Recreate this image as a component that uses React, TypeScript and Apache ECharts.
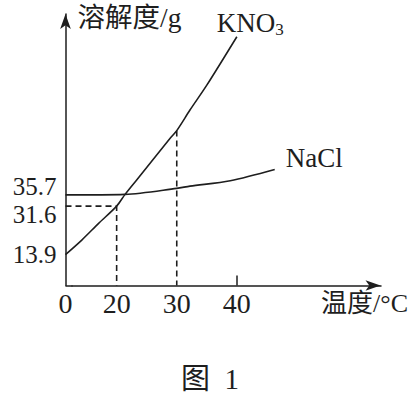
import { useEffect, useRef } from 'react';
import * as echarts from 'echarts';

// KNO3 solubility curve (temperature °C, solubility g)
const kno3Temp = [0, 14.2, 17.0, 20, 21.4, 23.3, 28.9, 30, 32.2, 35, 40];
const kno3Sol = [13.9, 19.2, 25.3, 31.6, 35.9, 41.1, 56.4, 59.2, 66.7, 75.8, 93.5];

// NaCl solubility curve
const naclTemp = [0, 21.4, 30, 32.2, 38.9, 46.3];
const naclSol = [35.7, 35.9, 38.1, 38.9, 40.9, 45.0];

// tick labels
const xTickLabels = [0, 20, 30, 40];
const xTickMarks = [40];
const yTickLabelsLower = [13.9, 31.6];
const yTickLabelsUpper = [35.7];

// dashed guide lines (temperature, KNO3 solubility)
const guideTemps = [20, 30];
const guideSols = [31.6, 59.2];

const Y_MIN = 2.6;
const Y_MAX = 101.8;
const X_MIN = 0;
const X_MAX = 63.9;

const SERIF = '"Liberation Serif", "Times New Roman", "Noto Sans CJK SC", serif';
const INK = '#1e1e1e';

function pairs(xs: number[], ys: number[]) {
  return xs.map((x, i) => [x, ys[i]]);
}

export default function App() {
  const ref = useRef<HTMLDivElement>(null);

  useEffect(() => {
    if (!ref.current) return;
    const chart = echarts.init(ref.current, null, { renderer: 'svg' });

    const guideSeries = guideTemps.map((t, i) => ({
      type: 'line',
      data: i === 0
        ? [[X_MIN, guideSols[i]], [t, guideSols[i]], [t, Y_MIN]]
        : [[t, guideSols[i]], [t, Y_MIN]],
      symbol: 'none',
      silent: true,
      z: 1,
      lineStyle: { color: INK, width: 1.6, type: [6, 4] },
    }));

    const yLabelBase = {
      margin: 9,
      fontFamily: SERIF,
      fontSize: 25,
      lineHeight: 17,
      color: INK,
      hideOverlap: false,
    };

    const option: any = {
      animation: false,
      backgroundColor: '#ffffff',
      textStyle: { fontFamily: SERIF },
      title: {
        text: '图  1',
        left: 181,
        top: 364,
        padding: 0,
        textStyle: { fontFamily: SERIF, fontSize: 29, fontWeight: 'normal', color: INK },
      },
      grid: {
        left: 65.5,
        right: 33.5,
        top: 14,
        bottom: 113.5,
        containLabel: false,
        outerBoundsMode: 'none',
      },
      xAxis: {
        type: 'value',
        min: X_MIN,
        max: X_MAX,
        breaks: [{ start: 1, end: 12.49, gap: 0 }],
        breakArea: {
          show: false,
          itemStyle: { color: 'none', borderWidth: 0, opacity: 0 },
          zigzagAmplitude: 0,
        },
        name: '温度/°C',
        nameLocation: 'end',
        nameGap: 27.5,
        nameTextStyle: {
          fontFamily: SERIF,
          fontSize: 26,
          color: INK,
          align: 'right',
          verticalAlign: 'top',
          padding: [5, 0, 0, 0],
        },
        axisLine: {
          onZero: false,
          symbol: ['none', 'arrow'],
          symbolSize: [8, 15],
          lineStyle: { color: INK, width: 1.5 },
        },
        axisTick: {
          show: true,
          inside: true,
          length: 10,
          customValues: xTickMarks,
          lineStyle: { color: INK, width: 1.5 },
        },
        axisLabel: {
          customValues: xTickLabels,
          margin: 4,
          fontFamily: SERIF,
          fontSize: 28,
          color: INK,
          formatter: (v: number) => String(v),
        },
        splitLine: { show: false },
      },
      yAxis: [
        {
          type: 'value',
          position: 'left',
          min: Y_MIN,
          max: Y_MAX,
          name: '溶解度/g',
          nameLocation: 'end',
          nameGap: -3.5,
          nameTextStyle: {
            fontFamily: SERIF,
            fontSize: 27.5,
            color: INK,
            align: 'left',
            verticalAlign: 'middle',
            padding: [0, 0, 0, 12],
          },
          axisLine: {
            show: true,
            onZero: false,
            symbol: ['none', 'arrow'],
            symbolSize: [8, 15],
            lineStyle: { color: INK, width: 1.5 },
          },
          axisTick: { show: false },
          axisLabel: {
            ...yLabelBase,
            customValues: yTickLabelsLower,
            formatter: (v: number) => (v === 31.6 ? '\n31.6' : String(v)),
          },
          splitLine: { show: false },
        },
        {
          type: 'value',
          position: 'left',
          offset: 0,
          min: Y_MIN,
          max: Y_MAX,
          axisLine: { show: false },
          axisTick: { show: false },
          axisLabel: {
            ...yLabelBase,
            customValues: yTickLabelsUpper,
            formatter: (v: number) => String(v) + '\n',
          },
          splitLine: { show: false },
        },
      ],
      series: [
        ...guideSeries,
        {
          name: 'KNO3',
          type: 'line',
          data: pairs(kno3Temp, kno3Sol),
          smooth: 0.3,
          symbol: 'none',
          z: 3,
          lineStyle: { color: INK, width: 1.6 },
          endLabel: {
            show: true,
            distance: 0,
            offset: [-20, -14],
            align: 'left',
            verticalAlign: 'middle',
            formatter: '{a|KNO}{s|3}',
            rich: {
              a: { fontFamily: SERIF, fontSize: 27, lineHeight: 30, color: INK },
              s: { fontFamily: SERIF, fontSize: 17, lineHeight: 17, verticalAlign: 'bottom', color: INK },
            },
          },
        },
        {
          name: 'NaCl',
          type: 'line',
          data: pairs(naclTemp, naclSol),
          smooth: 0.3,
          symbol: 'none',
          z: 3,
          lineStyle: { color: INK, width: 1.6 },
          endLabel: {
            show: true,
            distance: 0,
            offset: [11, -11],
            align: 'left',
            verticalAlign: 'middle',
            formatter: 'NaCl',
            fontFamily: SERIF,
            fontSize: 27,
            color: INK,
          },
        },
      ],
    };

    chart.setOption(option);
    return () => chart.dispose();
  }, []);

  return (
    <div
      ref={ref}
      style={{ position: 'fixed', left: 0, top: 0, width: 414, height: 399, background: '#fff' }}
    />
  );
}
